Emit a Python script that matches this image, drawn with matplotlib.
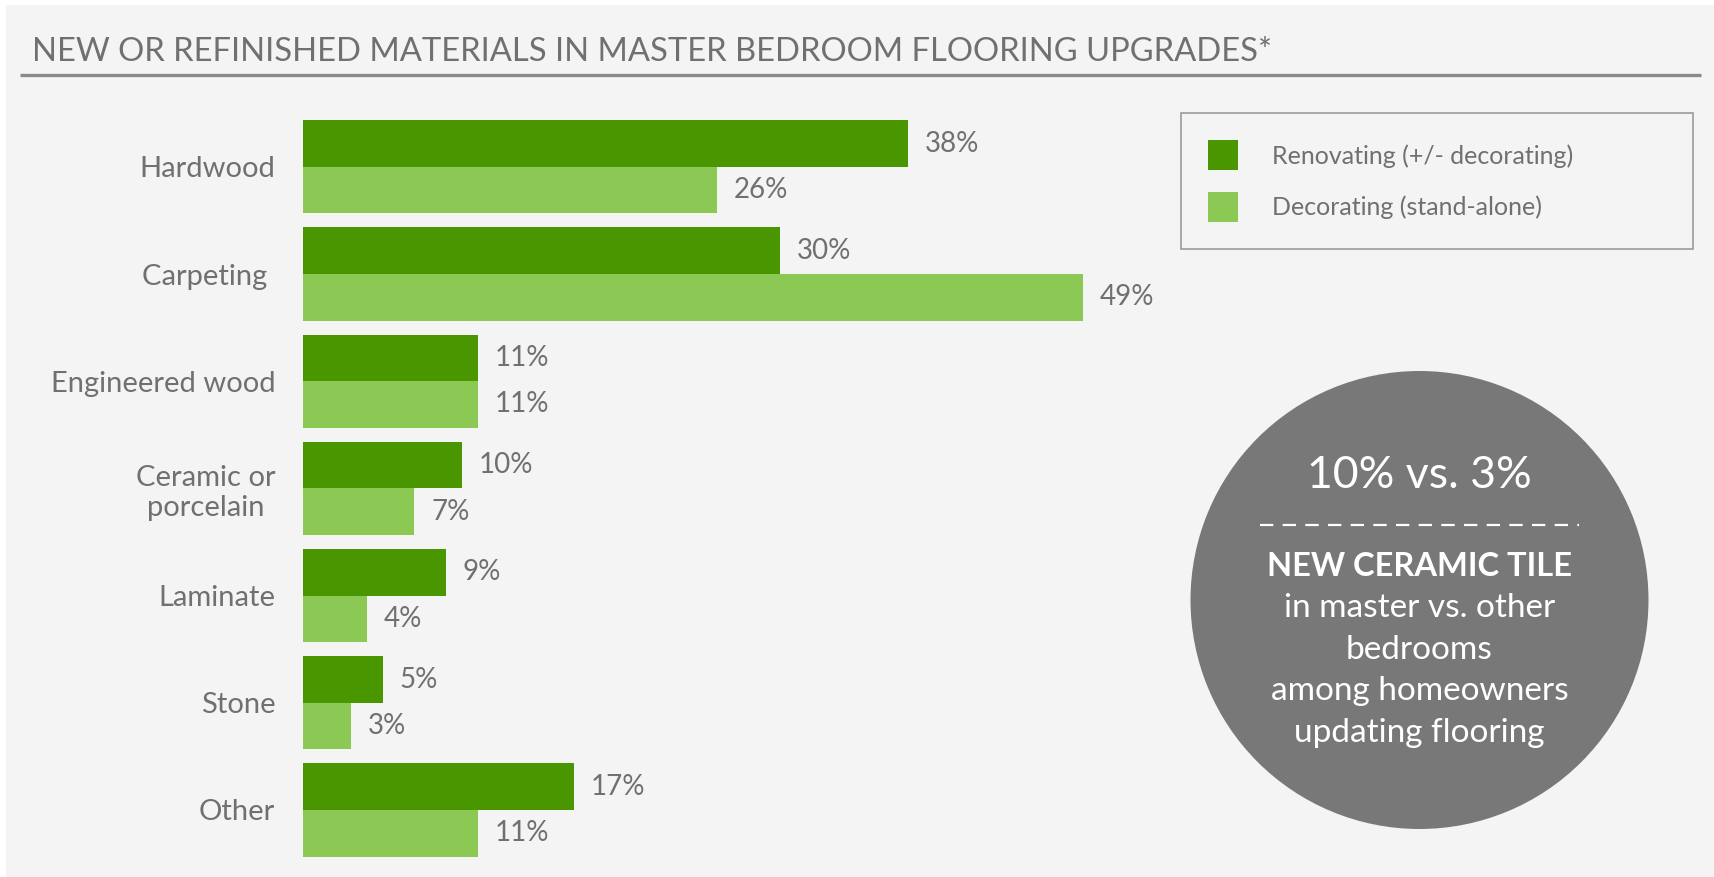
import matplotlib
matplotlib.use("Agg")
import matplotlib.pyplot as plt
from matplotlib.patches import Rectangle, Circle, Patch

plt.rcParams['font.family'] = ['Lato', 'DejaVu Sans']

# ---- data ----
categories = ["Hardwood", "Carpeting ", "Engineered wood", "Ceramic or\nporcelain",
              "Laminate", "Stone", "Other"]
renovating = [38, 30, 11, 10, 9, 5, 17]
decorating = [26, 49, 11, 7, 4, 3, 11]
series_names = ["Renovating (+/- decorating)", "Decorating (stand-alone)"]
title = "NEW OR REFINISHED MATERIALS IN MASTER BEDROOM FLOORING UPGRADES*"
callout_big = "10% vs. 3%"
callout_bold = "NEW CERAMIC TILE"
callout_lines = ["in master vs. other", "bedrooms", "among homeowners", "updating flooring"]

DARK = "#4a9600"
LIGHT = "#8bc954"
TXT = "#707070"
BG = "#f4f4f4"
CIRC = "#787878"

W, H = 1715, 877
fig = plt.figure(figsize=(W / 100, H / 100), dpi=100, facecolor="white")

# overlay in pixel coordinates
ov = fig.add_axes([0, 0, 1, 1], zorder=0)
ov.set_xlim(0, W)
ov.set_ylim(H, 0)
ov.axis("off")
ov.add_patch(Rectangle((6, 5), W - 6, H - 5, facecolor=BG, edgecolor="none"))
ov.text(32, 61, title, fontsize=23.6, color=TXT, fontweight="normal",
        ha="left", va="baseline")
ov.plot([20, 1701], [74.5, 74.5], color="#8a8a8a", lw=2.4, solid_capstyle="butt")

# callout circle
ov.add_patch(Circle((1419.5, 600), 229, facecolor=CIRC, edgecolor="none"))
ov.text(1419.5, 488, callout_big, fontsize=32, color="white", fontweight="normal",
        ha="center", va="baseline")
ov.plot([1260, 1579], [525, 525], color="white", lw=1.6, linestyle=(0, (6, 4.2)))
ov.text(1419.5, 576, callout_bold, fontsize=23.5, color="white", fontweight="bold",
        ha="center", va="baseline")
for i, line in enumerate(callout_lines):
    ov.text(1419.5, 617 + i * 41.6, line, fontsize=24, color="white",
            fontweight="normal", ha="center", va="baseline")

# bar axes
h = 0.434
ax = fig.add_axes([303 / W, 1 - 863.6 / H, 955 / W, 750.4 / H], zorder=1)
ax.set_facecolor("none")
ypos = list(range(len(categories)))
b1 = ax.barh([y - h / 2 for y in ypos], renovating, height=h, color=DARK,
             label=series_names[0])
b2 = ax.barh([y + h / 2 for y in ypos], decorating, height=h, color=LIGHT,
             label=series_names[1])
ax.set_xlim(0, 60)
ax.set_ylim(6.5, -0.5)
ax.bar_label(b1, labels=[f"{v}%" for v in renovating], padding=12, fontsize=20,
             color=TXT)
ax.bar_label(b2, labels=[f"{v}%" for v in decorating], padding=12, fontsize=20,
             color=TXT)
ax.set_yticks(ypos, categories, fontsize=21, color=TXT)
for lbl in ax.get_yticklabels():
    lbl.set_multialignment("center")
ax.tick_params(axis="y", length=0, pad=20)
ax.set_xticks([])
for s in ax.spines.values():
    s.set_visible(False)

# legend
handles = [Patch(facecolor=DARK), Patch(facecolor=LIGHT)]
leg = fig.legend(handles, series_names, loc="upper left",
                 bbox_to_anchor=(1181 / W, 1 - 113 / H - 0.01, 512 / W, 0.01),
                 mode="expand", borderaxespad=0, fontsize=18,
                 handlelength=1.18, handleheight=1.44, handletextpad=1.38,
                 labelspacing=0.88, borderpad=1.1, frameon=True, fancybox=False,
                 edgecolor="#9a9a9a", facecolor=BG, framealpha=1)
leg.get_frame().set_linewidth(1.2)
for t in leg.get_texts():
    t.set_color(TXT)
leg.set_zorder(2)

fig.savefig("out.png", dpi=100, facecolor="white")
